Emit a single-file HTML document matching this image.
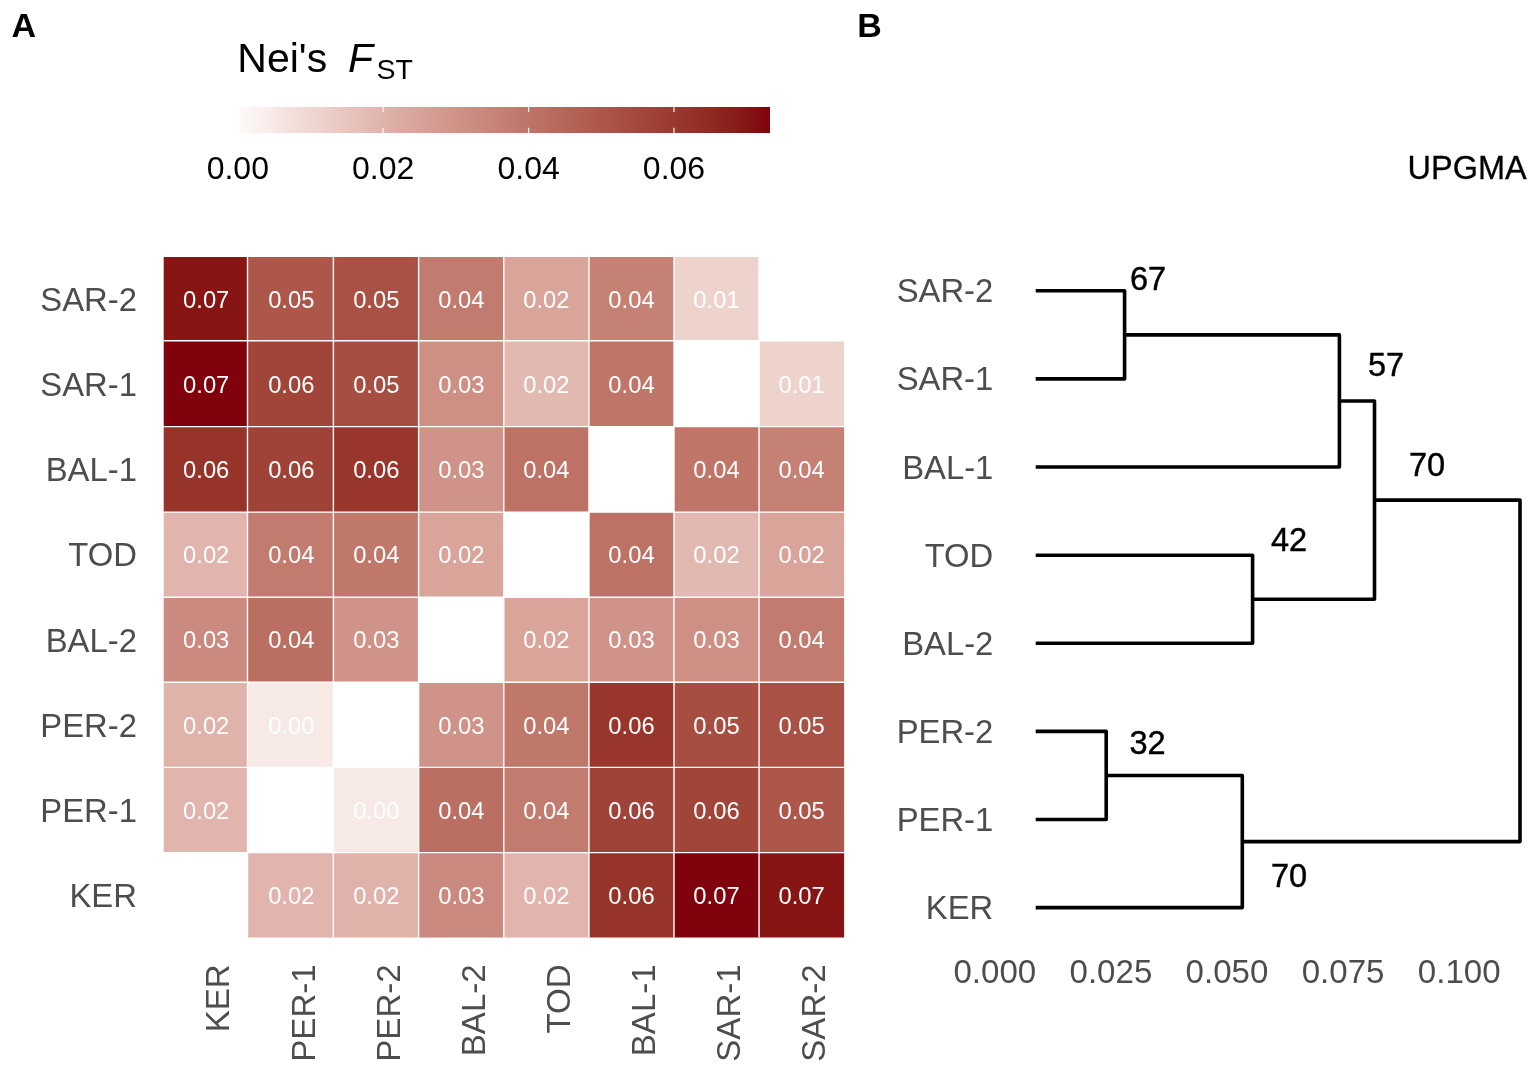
<!DOCTYPE html>
<html lang="en"><head><meta charset="utf-8"><title>Nei's FST heatmap and UPGMA dendrogram</title>
<style>
html,body{margin:0;padding:0;background:#fff;}
body{width:1535px;height:1066px;overflow:hidden;}
svg{display:block;}
text{font-family:"Liberation Sans",Arial,Helvetica,sans-serif;}
.ax{fill:#4d4d4d;font-size:33.1px;}
.cell{fill:#fff;font-size:23.8px;text-anchor:middle;}
.leg{fill:#000;font-size:32px;text-anchor:middle;}
.pan{fill:#000;font-size:34px;font-weight:bold;}
.bs{fill:#000;font-size:34.1px;stroke:#000;stroke-width:0.45px;}
.tree{stroke:#000;stroke-width:3.6;fill:none;stroke-linecap:butt;stroke-linejoin:round;}
</style></head><body>
<svg width="1535" height="1066" viewBox="0 0 1535 1066">
<rect width="1535" height="1066" fill="#fff"/>
<defs><linearGradient id="lg" x1="0" y1="0" x2="1" y2="0">
<stop offset="0.0000" stop-color="#fdf9f8"/>
<stop offset="0.0417" stop-color="#f9efee"/>
<stop offset="0.0833" stop-color="#f5e3e0"/>
<stop offset="0.1250" stop-color="#f0d8d4"/>
<stop offset="0.1667" stop-color="#eccdc8"/>
<stop offset="0.2083" stop-color="#e7c3bc"/>
<stop offset="0.2500" stop-color="#e2b8b1"/>
<stop offset="0.2917" stop-color="#ddaea6"/>
<stop offset="0.3333" stop-color="#d8a49b"/>
<stop offset="0.3750" stop-color="#d49b90"/>
<stop offset="0.4167" stop-color="#cf9186"/>
<stop offset="0.4583" stop-color="#c9887c"/>
<stop offset="0.5000" stop-color="#c47e72"/>
<stop offset="0.5417" stop-color="#bf7569"/>
<stop offset="0.5833" stop-color="#ba6c60"/>
<stop offset="0.6250" stop-color="#b46356"/>
<stop offset="0.6667" stop-color="#af5a4d"/>
<stop offset="0.7083" stop-color="#a95145"/>
<stop offset="0.7500" stop-color="#a3483c"/>
<stop offset="0.7917" stop-color="#9d3f34"/>
<stop offset="0.8333" stop-color="#97352c"/>
<stop offset="0.8750" stop-color="#912c24"/>
<stop offset="0.9167" stop-color="#8b211c"/>
<stop offset="0.9583" stop-color="#851414"/>
<stop offset="1.0000" stop-color="#7f020c"/>
</linearGradient></defs>
<text class="pan" x="11.6" y="36.7">A</text>
<text class="pan" x="857.3" y="36.7">B</text>
<text x="237.3" y="71.8" fill="#000" font-size="41px">Nei's</text>
<text x="348" y="71.8" fill="#000" font-size="41px" font-style="italic">F</text>
<text x="376.5" y="78.6" fill="#000" font-size="28.5px">ST</text>
<rect x="240.4" y="106.8" width="529.8" height="26.2" fill="url(#lg)" shape-rendering="crispEdges"/>
<text class="leg" x="237.8" y="179.3">0.00</text>
<path d="M383.2 106.8v5.2M383.2 133.0v-5.2" stroke="#fff" stroke-width="1.1" fill="none"/>
<text class="leg" x="383.2" y="179.3">0.02</text>
<path d="M528.6 106.8v5.2M528.6 133.0v-5.2" stroke="#fff" stroke-width="1.1" fill="none"/>
<text class="leg" x="528.6" y="179.3">0.04</text>
<path d="M674.0 106.8v5.2M674.0 133.0v-5.2" stroke="#fff" stroke-width="1.1" fill="none"/>
<text class="leg" x="674.0" y="179.3">0.06</text>
<rect x="163.70" y="257.00" width="83.80" height="83.80" fill="#861514"/>
<rect x="247.50" y="257.00" width="85.90" height="83.80" fill="#ad574a"/>
<rect x="333.40" y="257.00" width="85.20" height="83.80" fill="#a95145"/>
<rect x="418.60" y="257.00" width="85.20" height="83.80" fill="#c27b6f"/>
<rect x="503.80" y="257.00" width="85.15" height="83.80" fill="#d9a59b"/>
<rect x="588.95" y="257.00" width="85.05" height="83.80" fill="#c68175"/>
<rect x="674.00" y="257.00" width="85.05" height="83.80" fill="#eed3cd"/>
<rect x="163.70" y="340.80" width="83.80" height="85.80" fill="#7f020c"/>
<rect x="247.50" y="340.80" width="85.90" height="85.80" fill="#a14539"/>
<rect x="333.40" y="340.80" width="85.20" height="85.80" fill="#a74e42"/>
<rect x="418.60" y="340.80" width="85.20" height="85.80" fill="#ce9085"/>
<rect x="503.80" y="340.80" width="85.15" height="85.80" fill="#e2b9b1"/>
<rect x="588.95" y="340.80" width="85.05" height="85.80" fill="#bf7568"/>
<rect x="759.05" y="340.80" width="85.05" height="85.80" fill="#eed3cd"/>
<rect x="163.70" y="426.60" width="83.80" height="85.50" fill="#97342a"/>
<rect x="247.50" y="426.60" width="85.90" height="85.50" fill="#9f4237"/>
<rect x="333.40" y="426.60" width="85.20" height="85.50" fill="#98362c"/>
<rect x="418.60" y="426.60" width="85.20" height="85.50" fill="#d09389"/>
<rect x="503.80" y="426.60" width="85.15" height="85.50" fill="#bd7265"/>
<rect x="674.00" y="426.60" width="85.05" height="85.50" fill="#bf7568"/>
<rect x="759.05" y="426.60" width="85.05" height="85.50" fill="#c68175"/>
<rect x="163.70" y="512.10" width="83.80" height="85.10" fill="#e1b5ad"/>
<rect x="247.50" y="512.10" width="85.90" height="85.10" fill="#c27b6f"/>
<rect x="333.40" y="512.10" width="85.20" height="85.10" fill="#c0786b"/>
<rect x="418.60" y="512.10" width="85.20" height="85.10" fill="#d9a59b"/>
<rect x="588.95" y="512.10" width="85.05" height="85.10" fill="#bd7265"/>
<rect x="674.00" y="512.10" width="85.05" height="85.10" fill="#e2b9b1"/>
<rect x="759.05" y="512.10" width="85.05" height="85.10" fill="#d9a59b"/>
<rect x="163.70" y="597.20" width="83.80" height="85.10" fill="#cb8a7f"/>
<rect x="247.50" y="597.20" width="85.90" height="85.10" fill="#bb6f62"/>
<rect x="333.40" y="597.20" width="85.20" height="85.10" fill="#d09389"/>
<rect x="503.80" y="597.20" width="85.15" height="85.10" fill="#d9a59b"/>
<rect x="588.95" y="597.20" width="85.05" height="85.10" fill="#d09389"/>
<rect x="674.00" y="597.20" width="85.05" height="85.10" fill="#ce9085"/>
<rect x="759.05" y="597.20" width="85.05" height="85.10" fill="#c27b6f"/>
<rect x="163.70" y="682.30" width="83.80" height="85.10" fill="#dfb2aa"/>
<rect x="247.50" y="682.30" width="85.90" height="85.10" fill="#f7e9e6"/>
<rect x="418.60" y="682.30" width="85.20" height="85.10" fill="#d09389"/>
<rect x="503.80" y="682.30" width="85.15" height="85.10" fill="#c0786b"/>
<rect x="588.95" y="682.30" width="85.05" height="85.10" fill="#98362c"/>
<rect x="674.00" y="682.30" width="85.05" height="85.10" fill="#a74e42"/>
<rect x="759.05" y="682.30" width="85.05" height="85.10" fill="#a95145"/>
<rect x="163.70" y="767.40" width="83.80" height="85.20" fill="#e1b5ad"/>
<rect x="333.40" y="767.40" width="85.20" height="85.20" fill="#f7e9e6"/>
<rect x="418.60" y="767.40" width="85.20" height="85.20" fill="#bb6f62"/>
<rect x="503.80" y="767.40" width="85.15" height="85.20" fill="#c27b6f"/>
<rect x="588.95" y="767.40" width="85.05" height="85.20" fill="#9f4237"/>
<rect x="674.00" y="767.40" width="85.05" height="85.20" fill="#a14539"/>
<rect x="759.05" y="767.40" width="85.05" height="85.20" fill="#ad574a"/>
<rect x="247.50" y="852.60" width="85.90" height="84.90" fill="#e1b5ad"/>
<rect x="333.40" y="852.60" width="85.20" height="84.90" fill="#dfb2aa"/>
<rect x="418.60" y="852.60" width="85.20" height="84.90" fill="#cb8a7f"/>
<rect x="503.80" y="852.60" width="85.15" height="84.90" fill="#e1b5ad"/>
<rect x="588.95" y="852.60" width="85.05" height="84.90" fill="#97342a"/>
<rect x="674.00" y="852.60" width="85.05" height="84.90" fill="#7f020c"/>
<rect x="759.05" y="852.60" width="85.05" height="84.90" fill="#861514"/>
<path d="M247.50 257.00V937.50M163.70 340.80H844.10" stroke="#fff" stroke-width="1.4" fill="none"/>
<path d="M333.40 257.00V937.50M163.70 426.60H844.10" stroke="#fff" stroke-width="1.4" fill="none"/>
<path d="M418.60 257.00V937.50M163.70 512.10H844.10" stroke="#fff" stroke-width="1.4" fill="none"/>
<path d="M503.80 257.00V937.50M163.70 597.20H844.10" stroke="#fff" stroke-width="1.4" fill="none"/>
<path d="M588.95 257.00V937.50M163.70 682.30H844.10" stroke="#fff" stroke-width="1.4" fill="none"/>
<path d="M674.00 257.00V937.50M163.70 767.40H844.10" stroke="#fff" stroke-width="1.4" fill="none"/>
<path d="M759.05 257.00V937.50M163.70 852.60H844.10" stroke="#fff" stroke-width="1.4" fill="none"/>
<text class="cell" x="206.2" y="307.7">0.07</text>
<text class="cell" x="291.3" y="307.7">0.05</text>
<text class="cell" x="376.3" y="307.7">0.05</text>
<text class="cell" x="461.4" y="307.7">0.04</text>
<text class="cell" x="546.4" y="307.7">0.02</text>
<text class="cell" x="631.5" y="307.7">0.04</text>
<text class="cell" x="716.5" y="307.7">0.01</text>
<text class="cell" x="206.2" y="392.9">0.07</text>
<text class="cell" x="291.3" y="392.9">0.06</text>
<text class="cell" x="376.3" y="392.9">0.05</text>
<text class="cell" x="461.4" y="392.9">0.03</text>
<text class="cell" x="546.4" y="392.9">0.02</text>
<text class="cell" x="631.5" y="392.9">0.04</text>
<text class="cell" x="801.6" y="392.9">0.01</text>
<text class="cell" x="206.2" y="478.0">0.06</text>
<text class="cell" x="291.3" y="478.0">0.06</text>
<text class="cell" x="376.3" y="478.0">0.06</text>
<text class="cell" x="461.4" y="478.0">0.03</text>
<text class="cell" x="546.4" y="478.0">0.04</text>
<text class="cell" x="716.5" y="478.0">0.04</text>
<text class="cell" x="801.6" y="478.0">0.04</text>
<text class="cell" x="206.2" y="563.1">0.02</text>
<text class="cell" x="291.3" y="563.1">0.04</text>
<text class="cell" x="376.3" y="563.1">0.04</text>
<text class="cell" x="461.4" y="563.1">0.02</text>
<text class="cell" x="631.5" y="563.1">0.04</text>
<text class="cell" x="716.5" y="563.1">0.02</text>
<text class="cell" x="801.6" y="563.1">0.02</text>
<text class="cell" x="206.2" y="648.3">0.03</text>
<text class="cell" x="291.3" y="648.3">0.04</text>
<text class="cell" x="376.3" y="648.3">0.03</text>
<text class="cell" x="546.4" y="648.3">0.02</text>
<text class="cell" x="631.5" y="648.3">0.03</text>
<text class="cell" x="716.5" y="648.3">0.03</text>
<text class="cell" x="801.6" y="648.3">0.04</text>
<text class="cell" x="206.2" y="733.5">0.02</text>
<text class="cell" x="291.3" y="733.5">0.00</text>
<text class="cell" x="461.4" y="733.5">0.03</text>
<text class="cell" x="546.4" y="733.5">0.04</text>
<text class="cell" x="631.5" y="733.5">0.06</text>
<text class="cell" x="716.5" y="733.5">0.05</text>
<text class="cell" x="801.6" y="733.5">0.05</text>
<text class="cell" x="206.2" y="818.6">0.02</text>
<text class="cell" x="376.3" y="818.6">0.00</text>
<text class="cell" x="461.4" y="818.6">0.04</text>
<text class="cell" x="546.4" y="818.6">0.04</text>
<text class="cell" x="631.5" y="818.6">0.06</text>
<text class="cell" x="716.5" y="818.6">0.06</text>
<text class="cell" x="801.6" y="818.6">0.05</text>
<text class="cell" x="291.3" y="903.8">0.02</text>
<text class="cell" x="376.3" y="903.8">0.02</text>
<text class="cell" x="461.4" y="903.8">0.03</text>
<text class="cell" x="546.4" y="903.8">0.02</text>
<text class="cell" x="631.5" y="903.8">0.06</text>
<text class="cell" x="716.5" y="903.8">0.07</text>
<text class="cell" x="801.6" y="903.8">0.07</text>
<text class="ax" style="font-size:32.8px" text-anchor="end" x="136.9" y="310.9">SAR-2</text>
<text class="ax" style="font-size:32.8px" text-anchor="end" x="136.9" y="396.0">SAR-1</text>
<text class="ax" style="font-size:32.8px" text-anchor="end" x="136.9" y="481.2">BAL-1</text>
<text class="ax" style="font-size:32.8px" text-anchor="end" x="136.9" y="566.4">TOD</text>
<text class="ax" style="font-size:32.8px" text-anchor="end" x="136.9" y="651.5">BAL-2</text>
<text class="ax" style="font-size:32.8px" text-anchor="end" x="136.9" y="736.6">PER-2</text>
<text class="ax" style="font-size:32.8px" text-anchor="end" x="136.9" y="821.8">PER-1</text>
<text class="ax" style="font-size:32.8px" text-anchor="end" x="136.9" y="907.0">KER</text>
<text class="ax" text-anchor="end" transform="translate(229.4,964.3) rotate(-90)">KER</text>
<text class="ax" text-anchor="end" transform="translate(314.5,964.3) rotate(-90)">PER-1</text>
<text class="ax" text-anchor="end" transform="translate(399.5,964.3) rotate(-90)">PER-2</text>
<text class="ax" text-anchor="end" transform="translate(484.6,964.3) rotate(-90)">BAL-2</text>
<text class="ax" text-anchor="end" transform="translate(569.6,964.3) rotate(-90)">TOD</text>
<text class="ax" text-anchor="end" transform="translate(654.7,964.3) rotate(-90)">BAL-1</text>
<text class="ax" text-anchor="end" transform="translate(739.7,964.3) rotate(-90)">SAR-1</text>
<text class="ax" text-anchor="end" transform="translate(824.8,964.3) rotate(-90)">SAR-2</text>
<text class="ax" style="font-size:32.8px" text-anchor="end" x="993.3" y="302.3">SAR-2</text>
<text class="ax" style="font-size:32.8px" text-anchor="end" x="993.3" y="390.4">SAR-1</text>
<text class="ax" style="font-size:32.8px" text-anchor="end" x="993.3" y="478.5">BAL-1</text>
<text class="ax" style="font-size:32.8px" text-anchor="end" x="993.3" y="566.7">TOD</text>
<text class="ax" style="font-size:32.8px" text-anchor="end" x="993.3" y="654.8">BAL-2</text>
<text class="ax" style="font-size:32.8px" text-anchor="end" x="993.3" y="742.9">PER-2</text>
<text class="ax" style="font-size:32.8px" text-anchor="end" x="993.3" y="831.0">PER-1</text>
<text class="ax" style="font-size:32.8px" text-anchor="end" x="993.3" y="919.1">KER</text>
<path class="tree" d="M1035.7 290.8H1124.6V378.9H1035.7M1124.6 334.9H1339.4V467.0H1035.7M1339.4 401.0H1374.5V599.2H1252.6M1035.7 555.2H1252.6V643.3H1035.7M1374.5 500.1H1520.0V841.6H1242.3M1035.7 731.4H1106.2V819.5H1035.7M1106.2 775.5H1242.3V907.6H1035.7"/>
<text class="bs" transform="translate(1129.9,290.4) scale(0.955,1)">67</text>
<text class="bs" transform="translate(1367.9,376.4) scale(0.955,1)">57</text>
<text class="bs" transform="translate(1408.9,476.4) scale(0.955,1)">70</text>
<text class="bs" transform="translate(1270.9,551.4) scale(0.955,1)">42</text>
<text class="bs" transform="translate(1129.5,754.1) scale(0.955,1)">32</text>
<text class="bs" transform="translate(1270.9,887.3) scale(0.955,1)">70</text>
<text transform="translate(1407.6,179.0) scale(0.978,1)" fill="#000" stroke="#000" stroke-width="0.3" font-size="33.2px">UPGMA</text>
<text class="ax" text-anchor="middle" x="994.8" y="983.2">0.000</text>
<text class="ax" text-anchor="middle" x="1110.9" y="983.2">0.025</text>
<text class="ax" text-anchor="middle" x="1227.0" y="983.2">0.050</text>
<text class="ax" text-anchor="middle" x="1343.1" y="983.2">0.075</text>
<text class="ax" text-anchor="middle" x="1459.2" y="983.2">0.100</text>
</svg>
</body></html>
